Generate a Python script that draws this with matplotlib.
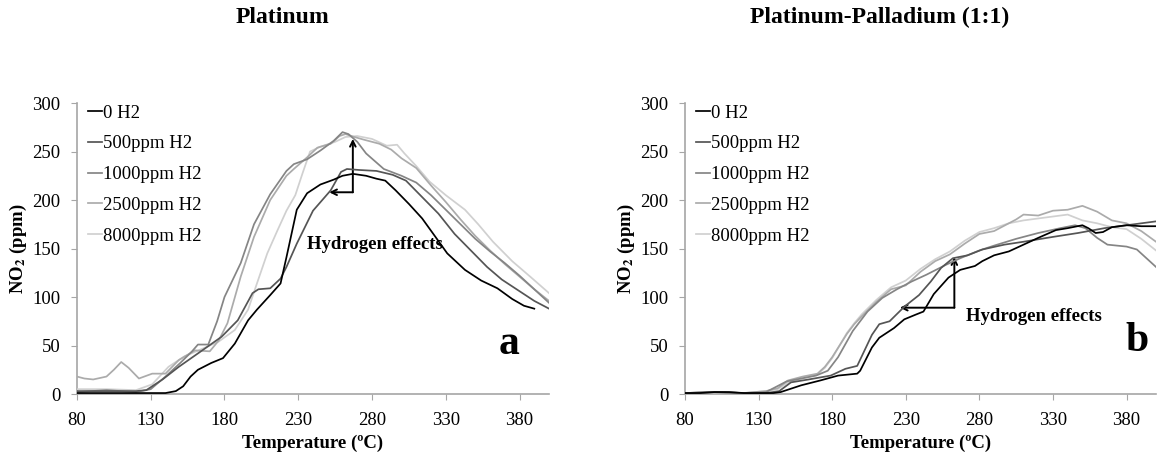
import matplotlib
matplotlib.use("Agg")
import matplotlib.pyplot as plt

plt.rcParams['font.family'] = ['Liberation Serif', 'DejaVu Serif']
plt.rcParams['mathtext.fontset'] = 'stix'

labels = ['0 H2', '500ppm H2', '1000ppm H2', '2500ppm H2', '8000ppm H2']
colors = ['#000000', '#555555', '#858585', '#ababab', '#d0d0d0']
x_ticks = [80, 130, 180, 230, 280, 330, 380]
y_ticks = [0, 50, 100, 150, 200, 250, 300]

# Platinum (a)
pt_0_x = [80, 100, 120, 140, 147, 152, 157, 162, 171, 179, 187, 196, 202, 211, 218, 222, 225, 229, 236, 245,
          254, 260, 267, 276, 283, 289, 296, 305, 314, 323, 331, 343, 354, 365, 375, 383, 390]
pt_0_y = [1, 1, 1, 1, 3, 8, 18, 25, 32, 37, 52, 76, 87, 102, 114, 141, 162, 190, 207, 216,
          221, 225, 227, 225, 222, 220, 210, 196, 181, 162, 145, 128, 117, 109, 98, 91, 88]
pt_500_x = [80, 100, 120, 127, 138, 149, 164, 178, 189, 199, 203, 211, 218, 222, 229, 240, 252, 259, 263, 271,
            283, 294, 303, 314, 325, 336, 347, 358, 368, 380, 390, 400]
pt_500_y = [3, 3, 3, 4, 15, 28, 44, 59, 76, 104, 108, 109, 119, 131, 155, 189, 210, 229, 232, 231,
            230, 226, 220, 203, 186, 165, 148, 131, 118, 106, 96, 88]
pt_1000_x = [80, 100, 120, 130, 140, 150, 158, 162, 169, 175, 180, 191, 200, 211, 222, 227, 236, 245, 254, 260,
             264, 270, 276, 288, 300, 310, 320, 330, 340, 350, 360, 370, 380, 390, 400]
pt_1000_y = [2, 4, 2, 5, 18, 32, 44, 51, 51, 75, 100, 135, 175, 206, 230, 237, 242, 251, 261, 270,
             268, 260, 248, 232, 225, 218, 205, 190, 175, 160, 147, 135, 122, 108, 94]
pt_2500_x = [80, 85, 91, 100, 105, 110, 115, 122, 131, 140, 149, 160, 170, 176, 182, 191, 200, 211, 222, 227,
             236, 243, 252, 258, 262, 268, 275, 285, 293, 300, 310, 320, 330, 340, 350, 360, 370, 380, 390, 400]
pt_2500_y = [18, 16, 15, 18, 25, 33, 27, 16, 21, 21, 35, 45, 44, 55, 73, 121, 162, 200, 225, 232,
             244, 254, 258, 266, 268, 265, 262, 258, 252, 243, 233, 215, 198, 180, 163, 148, 134, 121, 108, 96]
pt_8000_x = [80, 100, 120, 131, 142, 153, 164, 176, 187, 196, 202, 209, 216, 222, 228, 233, 238, 245, 255, 262,
             270, 280, 290, 297, 302, 310, 319, 330, 343, 352, 362, 375, 388, 400]
pt_8000_y = [5, 5, 4, 10, 28, 39, 46, 54, 66, 87, 114, 145, 169, 189, 205, 228, 250, 255, 260, 265,
             266, 263, 256, 257, 248, 235, 219, 205, 190, 175, 157, 137, 120, 104]

# Platinum-Palladium (b)
pd_0_x = [80, 90, 100, 110, 120, 130, 140, 145, 159, 172, 184, 197, 199, 207, 212, 222, 229, 237, 242, 249,
          259, 267, 277, 282, 290, 300, 310, 320, 332, 340, 350, 354, 359, 364, 370, 380, 390, 400]
pd_0_y = [1, 1, 2, 2, 1, 1, 1, 2, 9, 14, 19, 21, 24, 48, 58, 68, 77, 82, 85, 103,
          120, 128, 132, 137, 143, 147, 154, 161, 169, 171, 174, 171, 166, 167, 172, 174, 173, 173]
pd_500_x = [80, 100, 120, 135, 144, 152, 164, 179, 189, 197, 207, 212, 219, 229, 239, 247, 254, 262, 272, 282,
            297, 310, 330, 347, 365, 380, 400]
pd_500_y = [1, 2, 1, 1, 3, 12, 15, 19, 26, 29, 61, 72, 75, 90, 102, 116, 130, 140, 143, 149,
            154, 157, 162, 166, 171, 174, 178]
pd_1000_x = [80, 100, 120, 135, 149, 169, 177, 184, 194, 204, 214, 224, 234, 244, 257, 267, 280, 290, 305, 320,
             335, 345, 352, 360, 367, 380, 387, 400]
pd_1000_y = [1, 2, 1, 2, 13, 19, 24, 38, 65, 85, 99, 108, 116, 123, 133, 140, 148, 153, 160, 166,
             171, 174, 171, 161, 154, 152, 149, 131]
pd_2500_x = [80, 100, 120, 135, 143, 150, 160, 170, 175, 180, 185, 190, 195, 200, 210, 220, 230, 240, 250, 260,
             270, 280, 290, 300, 305, 310, 320, 330, 340, 350, 360, 370, 380, 390, 400]
pd_2500_y = [1, 2, 1, 3, 6, 14, 18, 21, 28, 38, 50, 62, 72, 80, 95, 108, 112, 126, 137, 144,
             155, 165, 168, 176, 180, 185, 184, 189, 190, 194, 188, 179, 176, 168, 157]
pd_8000_x = [80, 100, 120, 135, 143, 150, 160, 170, 175, 180, 185, 190, 195, 200, 210, 220, 230, 240, 250, 260,
             270, 280, 290, 300, 310, 320, 330, 340, 350, 360, 370, 380, 390, 400]
pd_8000_y = [1, 2, 1, 3, 5, 12, 16, 20, 27, 37, 50, 63, 73, 82, 97, 110, 117, 129, 139, 147,
             158, 167, 171, 176, 179, 181, 183, 185, 179, 176, 172, 170, 160, 148]

pt_series = [(pt_0_x, pt_0_y), (pt_500_x, pt_500_y), (pt_1000_x, pt_1000_y),
             (pt_2500_x, pt_2500_y), (pt_8000_x, pt_8000_y)]
pd_series = [(pd_0_x, pd_0_y), (pd_500_x, pd_500_y), (pd_1000_x, pd_1000_y),
             (pd_2500_x, pd_2500_y), (pd_8000_x, pd_8000_y)]

FS = 13.5


def drawPanel(ax, series, letter, letter_xy, elbow, up_to, left_to, text_xy):
    # lightest first so the dark curves sit on top
    for i in reversed(range(len(series))):
        xs, ys = series[i]
        ax.plot(xs, ys, color=colors[i], lw=1.25, label=labels[i], zorder=2 + (5 - i))

    ax.set_xlim(80, 400)
    ax.set_ylim(0, 300)
    ax.set_xticks(x_ticks)
    ax.set_yticks(y_ticks)
    for s in ['top', 'right']:
        ax.spines[s].set_visible(False)
    for s in ['left', 'bottom']:
        ax.spines[s].set_color('#a6a6a6')
        ax.spines[s].set_linewidth(1.2)
    ax.tick_params(axis='both', direction='out', length=4, color='#a6a6a6', labelsize=FS)
    ax.tick_params(axis='x', pad=9)
    ax.tick_params(axis='y', pad=8)

    ax.set_xlabel('Temperature (ºC)', fontsize=FS, fontweight='bold', labelpad=4)
    ax.set_ylabel(r'NO$_\mathbf{2}$ (ppm)', fontsize=FS, fontweight='bold', labelpad=2)

    h, l = ax.get_legend_handles_labels()
    ax.legend(h[::-1], l[::-1], loc='upper left', bbox_to_anchor=(0.0, 1.034), frameon=False,
              fontsize=FS, handlelength=0.75, handletextpad=0.05, labelspacing=0.73,
              borderaxespad=0.2)

    ax.annotate('', xy=up_to, xytext=elbow,
                arrowprops=dict(arrowstyle='->', color='black', lw=1.4, shrinkA=0, shrinkB=0))
    ax.annotate('', xy=left_to, xytext=elbow,
                arrowprops=dict(arrowstyle='->', color='black', lw=1.4, shrinkA=0, shrinkB=0))
    ax.text(text_xy[0], text_xy[1], 'Hydrogen effects', fontsize=FS, fontweight='bold',
            ha='left', va='center')
    ax.text(letter_xy[0], letter_xy[1], letter, fontsize=30, fontweight='bold',
            ha='center', va='center')


fig = plt.figure(figsize=(11.61, 4.61), dpi=100)
ax1 = fig.add_axes([0.0663, 0.1453, 0.4066, 0.6312])
ax2 = fig.add_axes([0.5900, 0.1453, 0.4057, 0.6312])

drawPanel(ax1, pt_series, 'a', (373, 52), (267, 208), (267, 263), (251, 208), (236, 154))
drawPanel(ax2, pd_series, 'b', (387, 55), (263, 89), (263, 141), (226, 89), (271, 80))

fig.text(0.2435, 0.962, 'Platinum', fontsize=17, fontweight='bold', ha='center', va='center')
fig.text(0.758, 0.962, 'Platinum-Palladium (1:1)', fontsize=17, fontweight='bold',
         ha='center', va='center')

fig.savefig('out.png', dpi=100)
